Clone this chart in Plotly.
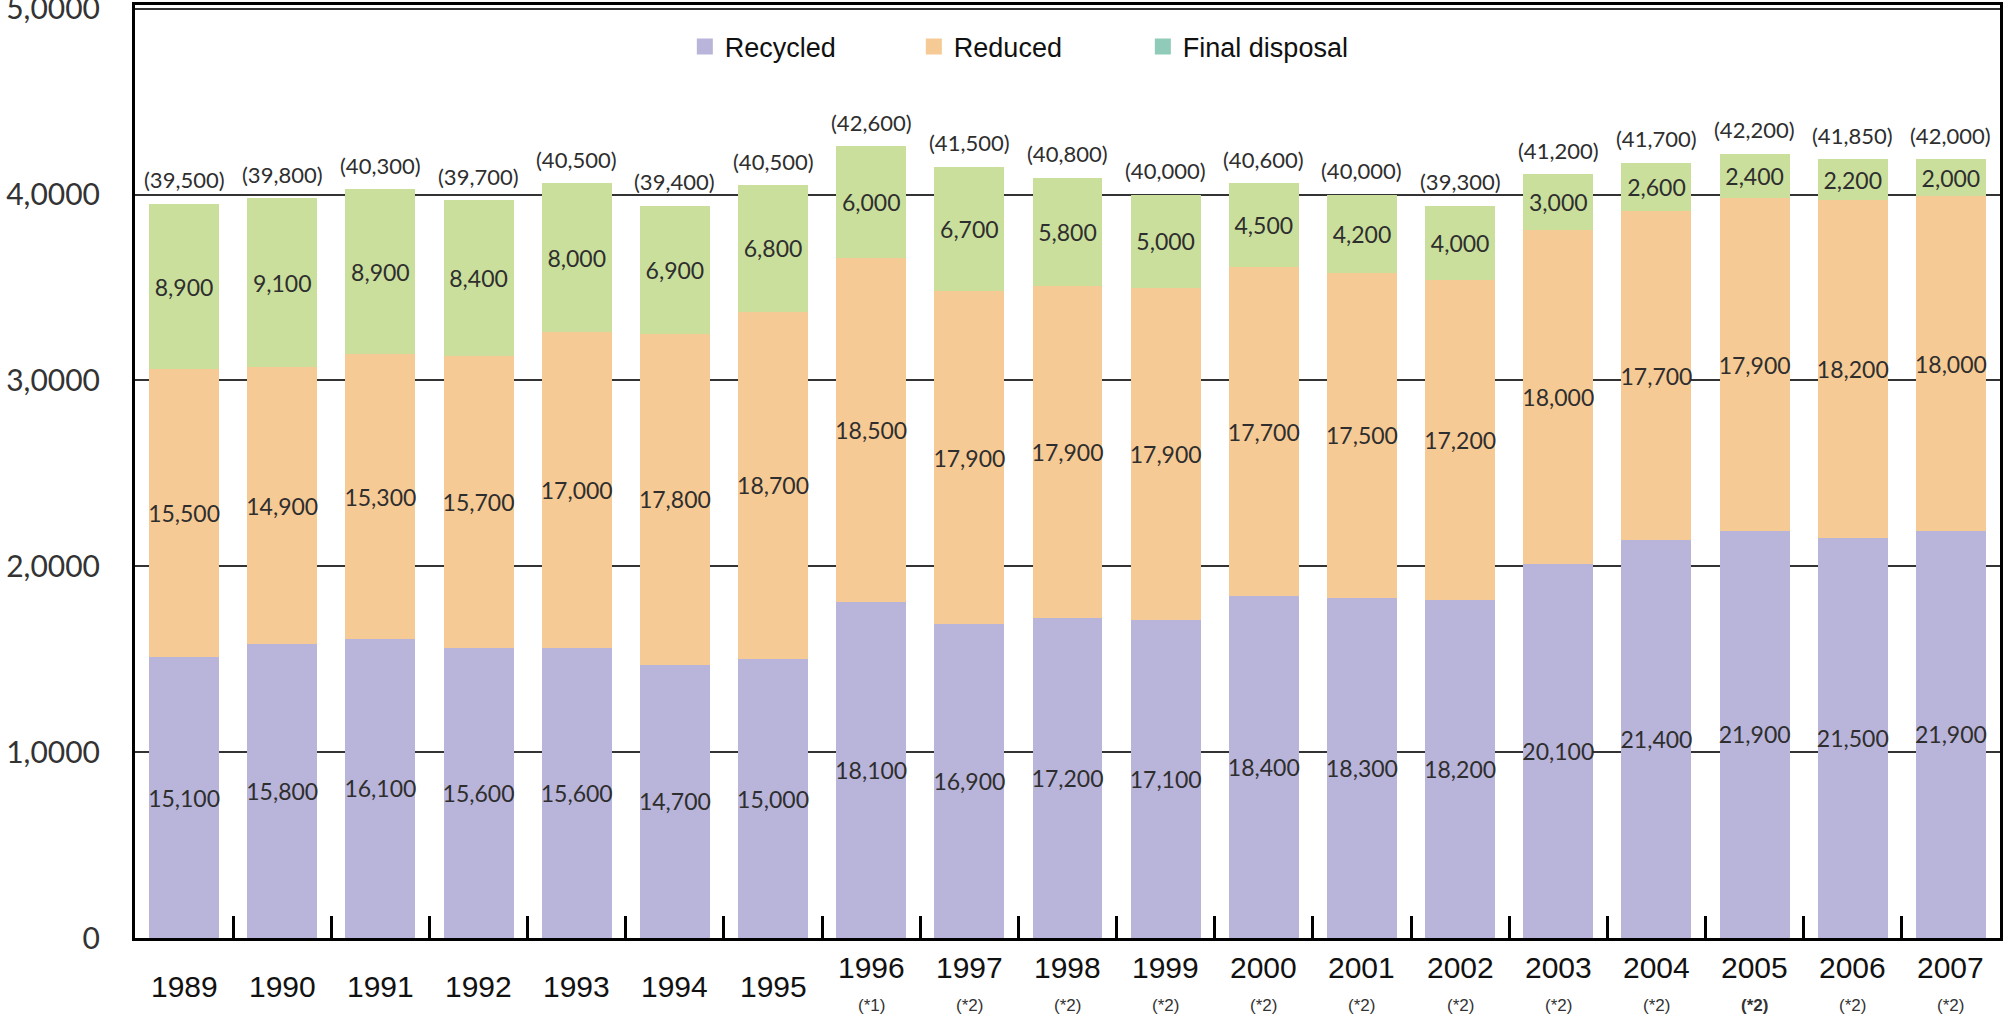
import plotly.graph_objects as go

years = ["1989", "1990", "1991", "1992", "1993", "1994", "1995", "1996", "1997", "1998",
         "1999", "2000", "2001", "2002", "2003", "2004", "2005", "2006", "2007"]
notes = ["", "", "", "", "", "", "", "(*1)", "(*2)", "(*2)",
         "(*2)", "(*2)", "(*2)", "(*2)", "(*2)", "(*2)", "(*2)", "(*2)", "(*2)"]
recycled = [15100, 15800, 16100, 15600, 15600, 14700, 15000, 18100, 16900, 17200,
            17100, 18400, 18300, 18200, 20100, 21400, 21900, 21500, 21900]
reduced = [15500, 14900, 15300, 15700, 17000, 17800, 18700, 18500, 17900, 17900,
           17900, 17700, 17500, 17200, 18000, 17700, 17900, 18200, 18000]
final_disposal = [8900, 9100, 8900, 8400, 8000, 6900, 6800, 6000, 6700, 5800,
                  5000, 4500, 4200, 4000, 3000, 2600, 2400, 2200, 2000]
totals = [39500, 39800, 40300, 39700, 40500, 39400, 40500, 42600, 41500, 40800,
          40000, 40600, 40000, 39300, 41200, 41700, 42200, 41850, 42000]
y_tick_values = [0, 10000, 20000, 30000, 40000, 50000]
y_tick_labels = ["0", "1,0000", "2,0000", "3,0000", "4,0000", "5,0000"]
series_names = ["Recycled", "Reduced", "Final disposal"]

C_PURPLE = "#b9b4d9"
C_ORANGE = "#f6ca95"
C_GREEN = "#cadf9c"
C_TEAL = "#8fcbb8"
TXT = "#2e2e2e"
NUM_FONT = "Lato, 'Noto Sans', sans-serif"
LAB_FONT = "'Liberation Sans', Arial, sans-serif"

fig = go.Figure()

for vals, color in [(recycled, C_PURPLE), (reduced, C_ORANGE), (final_disposal, C_GREEN)]:
    fig.add_trace(go.Bar(
        x=years, y=vals, marker=dict(color=color, line=dict(width=0)),
        text=[f"{v:,}" for v in vals], textposition="inside", insidetextanchor="middle",
        textangle=0, constraintext="none",
        textfont=dict(family=NUM_FONT, size=23, color=TXT),
        showlegend=False, hoverinfo="skip",
    ))

# legend entries (legend colours differ from the bar colours in the original)
for name, color in zip(series_names, [C_PURPLE, C_ORANGE, C_TEAL]):
    fig.add_trace(go.Scatter(
        x=[years[0]], y=[None], mode="markers", name=name,
        marker=dict(symbol="square", size=20, color=color),
    ))

# totals above each stack (x given as category index)
stack_tops = [a + b + c for a, b, c in zip(recycled, reduced, final_disposal)]
for i, (top, tot) in enumerate(zip(stack_tops, totals)):
    fig.add_annotation(x=i, xref="x", y=top, yref="y", text=f"({tot:,})", showarrow=False,
                       yanchor="middle", yshift=24,
                       font=dict(family=NUM_FONT, size=22, color=TXT))

# year labels and notes under the axis
for i, (yr, note) in enumerate(zip(years, notes)):
    if note:
        fig.add_annotation(x=i, xref="x", y=0, yref="paper", text=yr, showarrow=False,
                           yanchor="middle", yshift=-29,
                           font=dict(family=LAB_FONT, size=30, color="#111"))
        fig.add_annotation(x=i, xref="x", y=0, yref="paper",
                           text=(f"<b>{note}</b>" if yr == "2005" else note), showarrow=False,
                           yanchor="middle", yshift=-67,
                           font=dict(family=LAB_FONT, size=17, color="#333"))
    else:
        fig.add_annotation(x=i, xref="x", y=0, yref="paper", text=yr, showarrow=False,
                           yanchor="middle", yshift=-48,
                           font=dict(family=LAB_FONT, size=30, color="#111"))

fig.update_layout(
    width=2011, height=1016,
    margin=dict(l=135, r=11, t=5, b=78, autoexpand=False),
    paper_bgcolor="white", plot_bgcolor="white",
    barmode="stack", bargap=0.287,
    showlegend=True,
    legend=dict(orientation="h", x=0.479, xanchor="center", y=0.955, yanchor="middle",
                traceorder="normal",
                font=dict(family=LAB_FONT, size=27, color="#111"),
                entrywidth=184, entrywidthmode="pixels", bgcolor="rgba(0,0,0,0)"),
    xaxis=dict(type="category", range=[-0.5, len(years) - 0.5], autorange=False,
               showticklabels=False, tickson="boundaries", automargin=False,
               ticks="inside", ticklen=22, tickwidth=3, tickcolor="black",
               showline=True, linecolor="black", linewidth=3, mirror=True,
               showgrid=False, zeroline=False),
    yaxis=dict(range=[0, 50200], tickvals=y_tick_values, ticktext=y_tick_labels,
               tickfont=dict(family=NUM_FONT, size=30, color="#333"),
               ticks="", ticklabelstandoff=26, ticklabeloverflow="allow", automargin=False,
               showgrid=True, gridcolor="#333", gridwidth=2,
               showline=True, linecolor="black", linewidth=3, mirror=True,
               zeroline=False),
)

fig.write_html("out.html", config={"displayModeBar": False},
               post_script="document.body.style.margin='0';document.body.style.overflow='hidden';")
